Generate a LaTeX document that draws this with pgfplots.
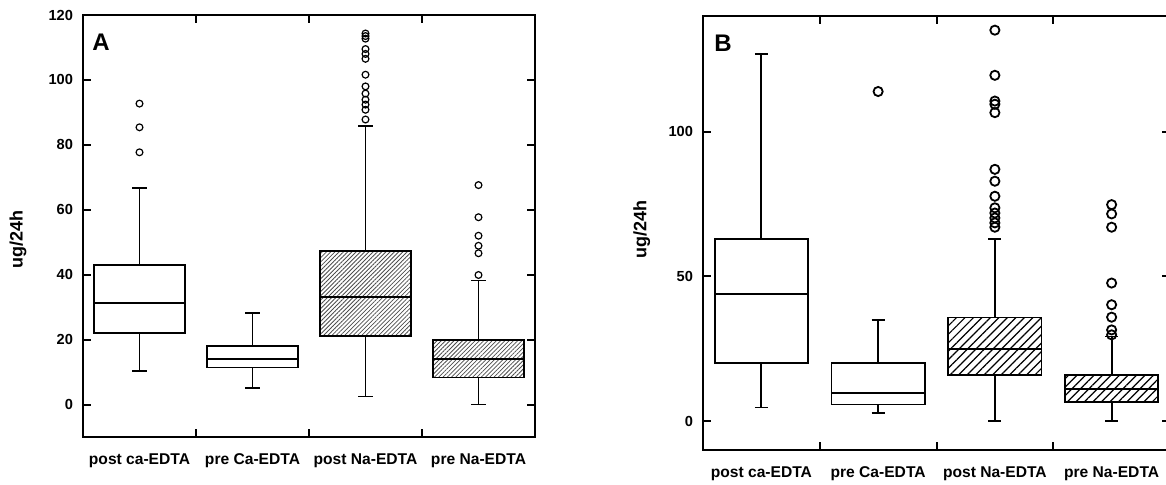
\documentclass[border=0pt]{standalone}
\usepackage{pgfplots}
\pgfplotsset{compat=1.18}
\usepgfplotslibrary{statistics}
\usetikzlibrary{patterns.meta}
\usepackage{fontspec}
\setmainfont{Liberation Sans}
\newcommand{\tickfont}{\bfseries\fontsize{7.3}{8}\selectfont}
\newcommand{\labfont}{\bfseries\fontsize{7.8}{9}\selectfont}
\begin{document}
\begin{tikzpicture}
\useasboundingbox (0,0) rectangle (583pt,242.5pt);
\clip (0,0) rectangle (583pt,242.5pt);
\pgfplotsset{
  common/.style={
    scale only axis, anchor=south west,
    xmin=-0.5, xmax=3.5, ymin=-10,
    xtick={0.5,1.5,2.5}, xticklabels={,,},
    extra x ticks={0,1,2,3},
    extra x tick labels={post ca-EDTA, pre Ca-EDTA, post Na-EDTA, pre Na-EDTA},
    extra x tick style={major tick length=0pt, tick style={draw=none}},
    tick align=inside, ticks=both,
    major tick length=4pt,
    tick style={black, line width=1pt},
    axis line style={line width=1.3pt},
    /pgf/number format/assume math mode=true,
    yticklabel style={font=\tickfont, xshift=-1.5pt},
    xticklabel style={font=\labfont, yshift=-5pt},
    ylabel={ug/24h},
    boxplot/draw direction=y,
    clip=false,
  },
  bpA/.style={black, line width=0.9pt, mark=o, mark size=1.7pt,
    mark options={line width=0.6pt},
    boxplot/box extend=0.8, boxplot/whisker extend=0.13},
  bpB/.style={black, line width=0.9pt, mark=o, mark size=2.3pt,
    mark options={line width=0.9pt},
    boxplot/box extend=0.8, boxplot/whisker extend=0.11},
  hatchA/.style={boxplot/every box/.style={pattern={Lines[angle=45,distance=1.5pt,line width=0.4pt]}, pattern color=black!70}},
  hatchB/.style={boxplot/every box/.style={pattern={Lines[angle=45,distance=3pt,line width=0.6pt]}, pattern color=black}},
}
% ---------------- Panel A ----------------
\begin{axis}[common,
  at={(41.5pt,24pt)}, width=226pt, height=211pt,
  ymax=120, ytick={0,20,...,120},
  every axis y label/.style={at={(axis description cs:-0.144,0.467)}, rotate=90, anchor=center, font=\bfseries\fontsize{9}{10}\selectfont},
]
\addplot[bpA, boxplot prepared={draw position=0, lower whisker=10.3, lower quartile=22.0, median=31.2, upper quartile=43.0, upper whisker=66.8}]
  table[row sep=\\, y index=0] {y\\ 92.7\\ 85.4\\ 77.7\\};
\addplot[bpA, boxplot prepared={draw position=1, lower whisker=5.2, lower quartile=11.4, median=14.0, upper quartile=18.0, upper whisker=28.3}]
  coordinates {};
\addplot[bpA, hatchA, boxplot prepared={draw position=2, lower whisker=2.5, lower quartile=21.1, median=33.2, upper quartile=47.2, upper whisker=85.7}]
  table[row sep=\\, y index=0] {y\\ 114.3\\ 113.5\\ 112.7\\ 109.5\\ 108.0\\ 106.5\\ 101.6\\ 98.0\\ 95.8\\ 93.9\\ 92.4\\ 90.8\\ 87.8\\};
\addplot[bpA, hatchA, boxplot prepared={draw position=3, lower whisker=0, lower quartile=8.3, median=14.0, upper quartile=20.0, upper whisker=38.2}]
  table[row sep=\\, y index=0] {y\\ 67.6\\ 57.7\\ 52.0\\ 48.9\\ 46.6\\ 39.9\\};
\node[font=\bfseries\fontsize{12}{13}\selectfont, anchor=center] at (rel axis cs:0.04,0.935) {A};
\end{axis}
% ---------------- Panel B ----------------
\begin{axis}[common,
  at={(351.5pt,17.5pt)}, width=233.5pt, height=217pt,
  ymax=140, ytick={0,50,100},
  every axis y label/.style={at={(axis description cs:-0.131,0.507)}, rotate=90, anchor=center, font=\bfseries\fontsize{9}{10}\selectfont},
]
\addplot[bpB, boxplot prepared={draw position=0, lower whisker=4.7, lower quartile=20.0, median=44.0, upper quartile=62.9, upper whisker=126.8}]
  coordinates {};
\addplot[bpB, boxplot prepared={draw position=1, lower whisker=2.7, lower quartile=5.7, median=9.8, upper quartile=20.0, upper whisker=35.0}]
  table[row sep=\\, y index=0] {y\\ 113.9\\};
\addplot[bpB, hatchB, boxplot prepared={draw position=2, lower whisker=0, lower quartile=15.9, median=24.9, upper quartile=35.8, upper whisker=62.9}]
  table[row sep=\\, y index=0] {y\\ 135.1\\ 119.5\\ 110.6\\ 109.5\\ 106.6\\ 87.0\\ 82.9\\ 77.7\\ 73.7\\ 71.9\\ 70.2\\ 68.5\\ 67.0\\};
\addplot[bpB, hatchB, boxplot prepared={draw position=3, lower whisker=0, lower quartile=6.7, median=11.0, upper quartile=15.9, upper whisker=29.2}]
  table[row sep=\\, y index=0] {y\\ 74.8\\ 71.6\\ 67.0\\ 47.7\\ 40.2\\ 35.9\\ 31.5\\ 29.8\\};
\node[font=\bfseries\fontsize{12}{13}\selectfont, anchor=center] at (rel axis cs:0.043,0.938) {B};
\end{axis}
\end{tikzpicture}
\end{document}
